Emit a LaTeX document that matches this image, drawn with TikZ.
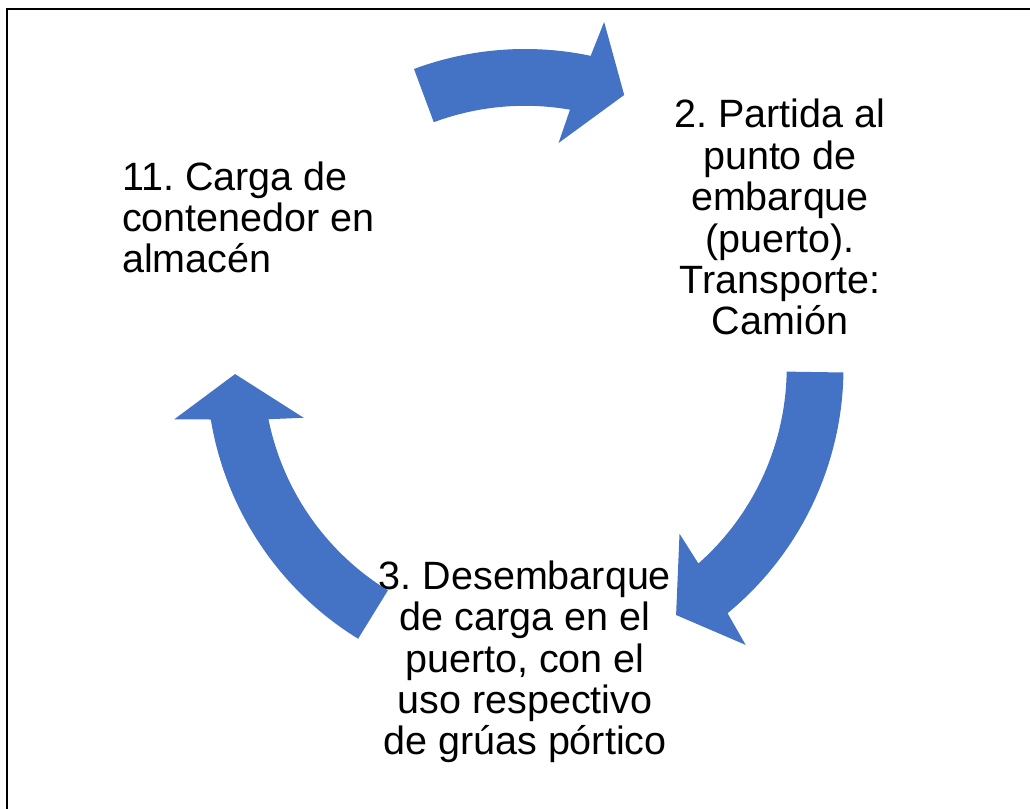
\documentclass[tikz,border=0pt]{standalone}
\usepackage{fontspec}
\setmainfont{Liberation Sans}
\frenchspacing
\definecolor{accblue}{HTML}{4472C4}
\begin{document}
\begin{tikzpicture}[x=1pt, y=1pt,
		txt/.style = {inner sep=0pt, font=\fontsize{39.5}{41.4}\selectfont},
		blk/.style = {fill=accblue}]
	\useasboundingbox (0,0) rectangle (1030,808);
	\clip (0,0) rectangle (1030,808);
	\draw[line width=2.5pt] (7,-20) rectangle (1060,799);
	\coordinate (c) at (525,440.5);
	\node[txt, align=left, anchor=base west] (11) at (122,535) {11. Carga de\\contenedor en\\almacén};
	\node[txt, align=center, anchor=base] (2) at (780,473) {2. Partida al\\punto de\\embarque\\(puerto).\\Transporte:\\Camión};
	\node[txt, align=center, anchor=base] (3) at (525,53) {3. Desembarque\\de carga en el\\puerto, con el\\uso respectivo\\de grúas pórtico};
	% block arrows round the cycle
	\foreach \t/\h in {110.4/70, -0.9/-58.6, 238.4/181.3}
		\fill[blk, shift={(c)}] (\t:318.5) arc[start angle=\t, end angle=\h+8.1, radius=318.5]
			-- (\h+7.1:354.5) -- (\h:290) -- (\h+11.5:227) -- (\h+10.1:261.7)
			arc[start angle=\h+10.1, end angle=\t, radius=261.7] -- cycle;
\end{tikzpicture}
\end{document}
